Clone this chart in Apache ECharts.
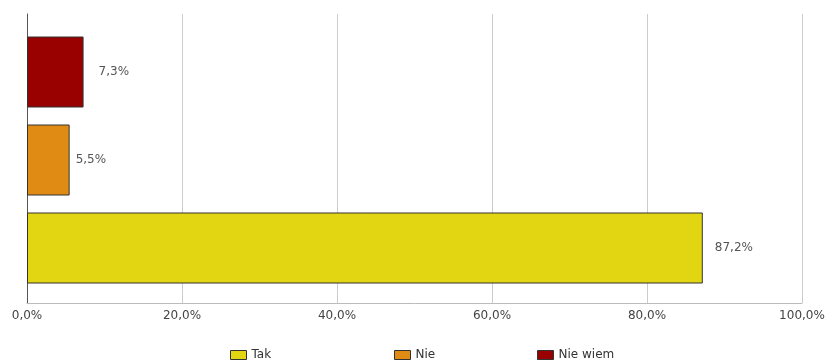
<!DOCTYPE html>
<html>
<head>
<meta charset="utf-8">
<script src="https://cdn.jsdelivr.net/npm/echarts@6/dist/echarts.min.js"></script>
<style>
  html, body { margin: 0; padding: 0; background: #fff; }
  #chart { width: 825px; height: 362px; }
</style>
</head>
<body>
<div id="chart"></div>
<script>
// categories bottom to top
const categories = ['Tak', 'Nie', 'Nie wiem']
const values = [87.2, 5.5, 7.3]
const colors = ['#e2d612', '#e08c14', '#990000']
const xTicks = [0, 20, 40, 60, 80, 100]

const fmt = v => v.toFixed(1).replace('.', ',') + '%'
const font = 'DejaVu Sans'
const labelGap = [12, 6, 15]

const chart = echarts.init(document.getElementById('chart'))

// one series per answer, stacked so they share one slot each
const series = categories.map((name, i) => ({
  name,
  type: 'bar',
  xAxisIndex: 1,
  yAxisIndex: 1,
  stack: 'all',
  barWidth: 71,
  data: categories.map((c, j) => (j === i ? values[i] : '-')),
  itemStyle: { color: colors[i], borderColor: '#333', borderWidth: 1 },
  label: {
    show: true,
    position: 'right',
    distance: labelGap[i],
    formatter: p => fmt(p.value),
    color: '#555',
    fontFamily: font,
    fontSize: 12,
  },
}))

const legendLeft = [230, 394, 537]

chart.setOption({
  animation: false,
  grid: [
    { left: 27, right: 23, top: 14, bottom: 59, outerBoundsMode: 'none' },
    { left: 27, right: 23, top: 28, bottom: 70, outerBoundsMode: 'none' },
  ],
  legend: categories.map((name, i) => ({
    data: [name],
    left: legendLeft[i],
    top: 349,
    padding: 0,
    itemWidth: 16,
    itemHeight: 9,
    textStyle: { fontFamily: font, fontSize: 12, color: '#333' },
    itemStyle: { borderColor: '#333', borderWidth: 1 },
    icon: 'rect',
    selectedMode: false,
  })),
  xAxis: [
    {
      gridIndex: 0,
      type: 'value',
      min: xTicks[0],
      max: xTicks[xTicks.length - 1],
      interval: 20,
      axisLine: { show: true, lineStyle: { color: '#bbb' } },
      axisTick: { show: false },
      splitLine: { lineStyle: { color: '#ccc' } },
      axisLabel: {
        formatter: fmt,
        color: '#444',
        fontFamily: font,
        fontSize: 12,
        margin: 7,
      },
    },
    { gridIndex: 1, type: 'value', min: 0, max: 100, show: false },
  ],
  yAxis: [
    {
      gridIndex: 0,
      type: 'category',
      data: categories,
      axisLine: { show: true, lineStyle: { color: '#555' } },
      axisTick: { show: false },
      axisLabel: { show: false },
    },
    { gridIndex: 1, type: 'category', data: categories, show: false },
  ],
  series,
})
</script>
</body>
</html>
